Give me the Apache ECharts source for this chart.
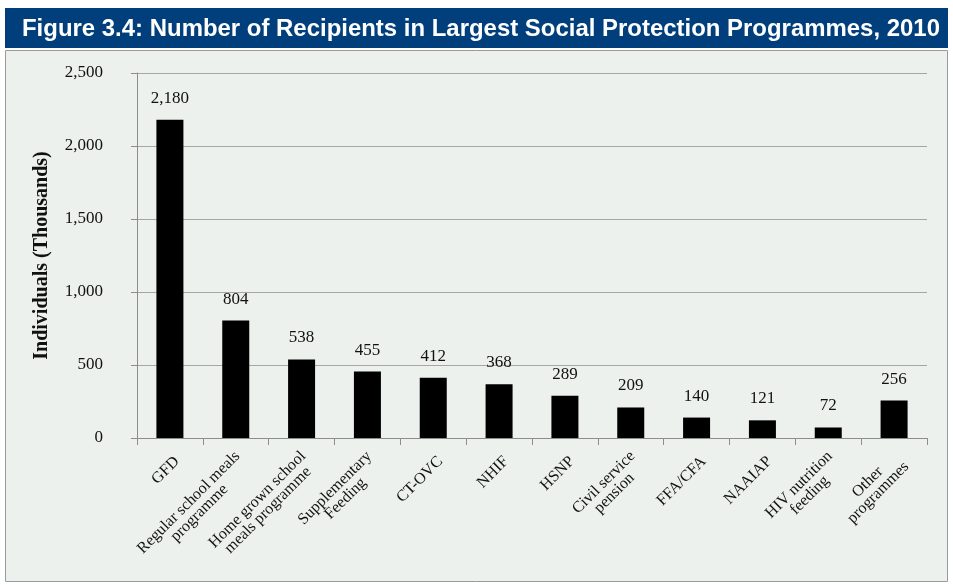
<!DOCTYPE html>
<html>
<head>
<meta charset="utf-8">
<script src="https://cdn.jsdelivr.net/npm/echarts@6/dist/echarts.min.js"></script>
<style>
  html, body { margin: 0; padding: 0; background: #ffffff; }
  #chart { width: 953px; height: 585px; }
</style>
</head>
<body>
<div id="chart"></div>
<script>
// Programme names (line breaks as printed under the axis)
const categories = [
  'GFD',
  'Regular school meals\nprogramme',
  'Home grown school\nmeals programme',
  'Supplementary\nFeeding',
  'CT-OVC',
  'NHIF',
  'HSNP',
  'Civil service\npension',
  'FFA/CFA',
  'NAAIAP',
  'HIV nutrition\nfeeding',
  'Other\nprogrammes'
];

// Recipients, thousands
const recipients = [2180, 804, 538, 455, 412, 368, 289, 209, 140, 121, 72, 256];

const yTicks = [0, 500, 1000, 1500, 2000, 2500];

const titleText = 'Figure 3.4: Number of Recipients in Largest Social Protection Programmes, 2010';

const serif = '"Liberation Serif", "DejaVu Serif", serif';

// Condense the heading to fit the banner width
const titleFont = 'bold 24px "Liberation Sans", Arial, sans-serif';
const ctx = document.createElement('canvas').getContext('2d');
ctx.font = titleFont;
const titleScale = 918 / ctx.measureText(titleText).width;

const chart = echarts.init(document.getElementById('chart'), null, { renderer: 'canvas' });

chart.setOption({
  animation: false,
  backgroundColor: '#ffffff',
  graphic: [
    {
      type: 'rect',
      z: -10,
      shape: { x: 5.5, y: 50.5, width: 942, height: 531 },
      style: { fill: '#ecf1ee', stroke: '#9a9a9a', lineWidth: 1 }
    },
    {
      type: 'rect',
      z: -10,
      shape: { x: 5, y: 8, width: 943, height: 40 },
      style: { fill: '#003f7c' }
    },
    {
      type: 'text',
      x: 22,
      y: 29,
      scaleX: titleScale,
      style: {
        text: titleText,
        fill: '#ffffff',
        font: titleFont,
        textVerticalAlign: 'middle'
      }
    }
  ],
  grid: { left: 137, right: 26, top: 73, bottom: 147 },
  xAxis: {
    type: 'category',
    data: categories,
    axisLine: { lineStyle: { color: '#8c8c8c', width: 1 } },
    axisTick: { show: true, alignWithLabel: false, length: 7, lineStyle: { color: '#8c8c8c' } },
    axisLabel: {
      interval: 0,
      rotate: 45,
      margin: 14,
      padding: [20, 0, 0, 0],
      color: '#111',
      fontFamily: serif,
      fontSize: 16,
      lineHeight: 15,
      formatter: v => v.split('\n').map(s => '{c|' + s + '}').join('\n'),
      rich: { c: { align: 'center', fontFamily: serif, fontSize: 16, lineHeight: 15, color: '#111' } }
    }
  },
  yAxis: {
    type: 'value',
    min: 0,
    max: 2500,
    interval: 500,
    name: 'Individuals (Thousands)',
    nameLocation: 'middle',
    nameGap: 85,
    nameTextStyle: { fontFamily: serif, fontSize: 20, fontWeight: 'bold', color: '#111' },
    axisLine: { show: true, lineStyle: { color: '#8c8c8c' } },
    axisTick: { show: true, length: 6, lineStyle: { color: '#8c8c8c' } },
    splitLine: { show: true, lineStyle: { color: '#a6a6a6', width: 1 } },
    axisLabel: {
      margin: 34,
      color: '#111',
      fontFamily: serif,
      fontSize: 17,
      formatter: v => yTicks.includes(v) ? v.toLocaleString('en-US') : ''
    }
  },
  series: [{
    type: 'bar',
    data: recipients,
    barWidth: 27,
    itemStyle: { color: '#000000' },
    label: {
      show: true,
      position: 'top',
      distance: 13,
      color: '#111',
      fontFamily: serif,
      fontSize: 17,
      formatter: p => p.value.toLocaleString('en-US')
    }
  }]
});
</script>
</body>
</html>
